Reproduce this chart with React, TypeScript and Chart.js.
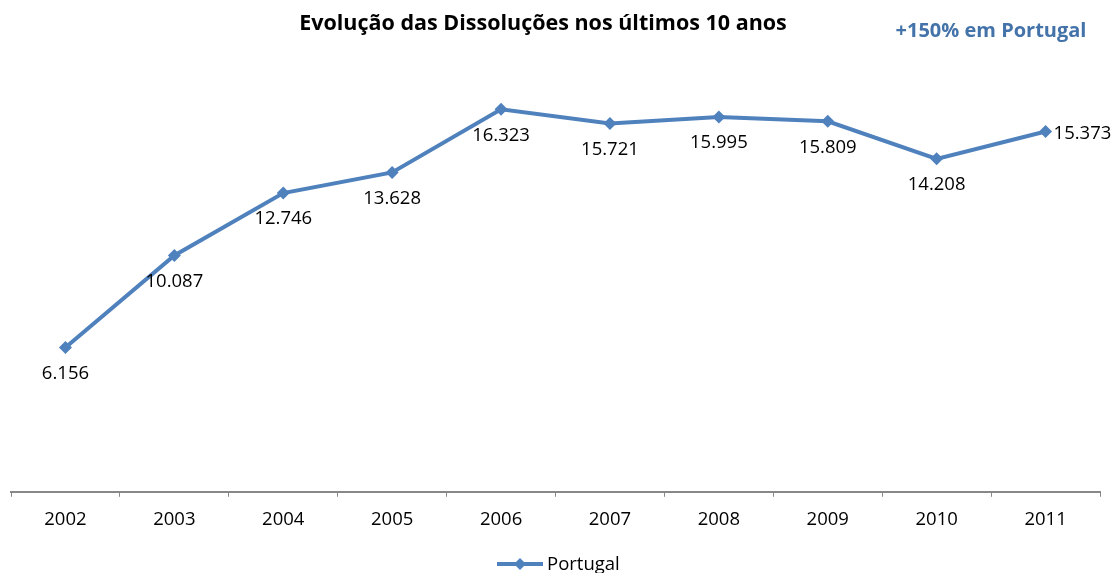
import React, { useEffect, useRef } from "react";
import { Chart, registerables } from "chart.js";

Chart.register(...registerables);

const years = ["2002", "2003", "2004", "2005", "2006", "2007", "2008", "2009", "2010", "2011"];
const portugal = [6.156, 10.087, 12.746, 13.628, 16.323, 15.721, 15.995, 15.809, 14.208, 15.373];
const labelsText = ["6.156", "10.087", "12.746", "13.628", "16.323", "15.721", "15.995", "15.809", "14.208", "15.373"];
const titleText = "Evolução das Dissoluções nos últimos 10 anos";
const noteText = "+150% em Portugal";
const seriesName = "Portugal";

const FONT = "'Open Sans', 'Noto Sans', sans-serif";
const BLUE = "#4F81BD";

export default function App() {
  const ref = useRef<HTMLCanvasElement | null>(null);
  useEffect(() => {
    const canvas = ref.current;
    if (!canvas) return;
    const overlay = {
      id: "overlay",
      afterDatasetsDraw(chart: any) {
        const ctx = chart.ctx;
        const meta = chart.getDatasetMeta(0);
        ctx.save();
        ctx.fillStyle = "#000";
        ctx.font = `18.5px ${FONT}`;
        ctx.textBaseline = "middle";
        meta.data.forEach((pt: any, i: number) => {
          if (i === meta.data.length - 1) {
            ctx.textAlign = "left";
            ctx.fillText(labelsText[i], pt.x + 8, pt.y + 2);
          } else {
            ctx.textAlign = "center";
            ctx.fillText(labelsText[i], pt.x, pt.y + 26);
          }
        });
        // title
        ctx.font = `bold 21.5px ${FONT}`;
        ctx.textAlign = "center";
        ctx.fillStyle = "#000";
        ctx.fillText(titleText, 543, 24);
        ctx.font = `bold 20px ${FONT}`;
        ctx.fillStyle = "#4473AA";
        ctx.fillText(noteText, 991, 31);
        // legend
        const ly = 564;
        ctx.strokeStyle = BLUE;
        ctx.lineWidth = 4;
        ctx.beginPath();
        ctx.moveTo(497, ly);
        ctx.lineTo(543, ly);
        ctx.stroke();
        ctx.fillStyle = BLUE;
        ctx.beginPath();
        ctx.moveTo(520, ly - 6);
        ctx.lineTo(526, ly);
        ctx.lineTo(520, ly + 6);
        ctx.lineTo(514, ly);
        ctx.closePath();
        ctx.fill();
        ctx.fillStyle = "#000";
        ctx.font = `18.5px ${FONT}`;
        ctx.textAlign = "left";
        ctx.fillText(seriesName, 547, ly + 1);
        ctx.restore();
      },
    };
    const chart = new Chart(canvas, {
      type: "line",
      data: {
        labels: years,
        datasets: [
          {
            label: seriesName,
            data: portugal,
            borderColor: BLUE,
            backgroundColor: BLUE,
            borderWidth: 4,
            pointStyle: "rectRot",
            pointRadius: 6.5,
            pointBorderWidth: 0,
            tension: 0,
          },
        ],
      },
      options: {
        responsive: false,
        animation: false,
        layout: { padding: { left: 11, right: 15, top: 70, bottom: 30 } },
        plugins: { legend: { display: false }, title: { display: false }, tooltip: { enabled: false } },
        scales: {
          x: {
            offset: true,
            grid: {
              offset: true,
              drawOnChartArea: false,
              drawTicks: true,
              tickLength: 5,
              color: "#888",
            },
            border: { display: true, color: "#888", width: 2 },
            ticks: { color: "#000", font: { family: FONT, size: 18.5 }, padding: 12 },
          },
          y: { display: false, min: 0, max: 18 },
        },
      },
      plugins: [overlay],
    });
    return () => chart.destroy();
  }, []);
  return (
    <div style={{ position: "absolute", left: 0, top: 0, width: 1115, height: 573, background: "#fff" }}>
      <canvas ref={ref} width={1115} height={573} />
    </div>
  );
}
